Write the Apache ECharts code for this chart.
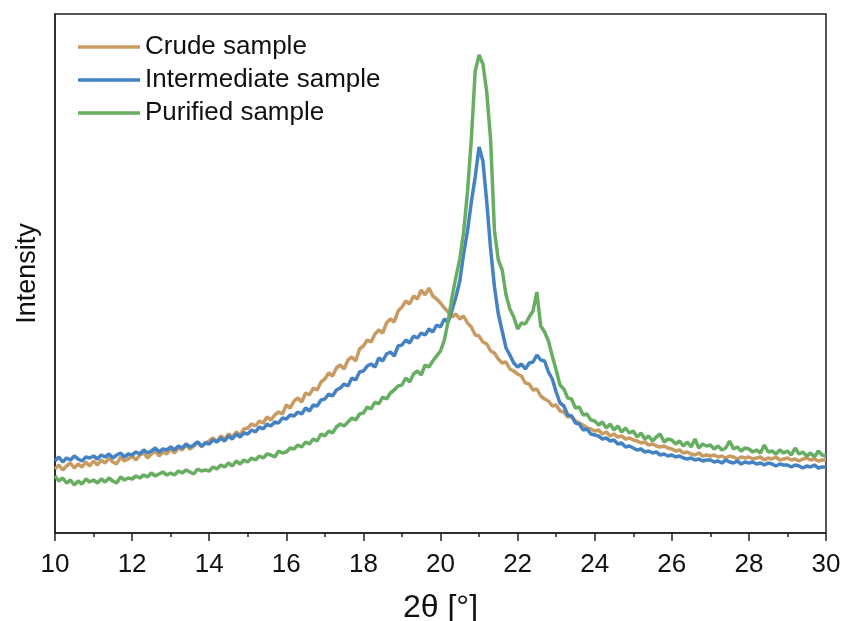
<!DOCTYPE html>
<html>
<head>
<meta charset="utf-8">
<script src="https://cdn.jsdelivr.net/npm/echarts@6/dist/echarts.min.js"></script>
<style>html,body{margin:0;padding:0;background:#fff;}#chart{width:844px;height:621px;}</style>
</head>
<body>
<div id="chart"></div>
<script>
const thetaStart = 10.0;
const thetaStep = 0.1;
const xTicks = [10, 12, 14, 16, 18, 20, 22, 24, 26, 28, 30];
const seriesNames = ['Crude sample', 'Intermediate sample', 'Purified sample'];

const crude = [
  64, 68, 63, 67, 70, 65, 69, 66, 71, 67,
  72, 68, 73, 70, 75, 71, 69, 76, 72, 74,
  77, 73, 78, 80, 75, 79, 82, 77, 81, 79,
  84, 80, 85, 83, 88, 84, 87, 91, 86, 90,
  92, 95, 91, 97, 94, 99, 96, 101, 98, 104,
  105, 109, 107, 112, 110, 116, 113, 118, 121, 119,
  128, 125, 132, 135, 131, 140, 138, 145, 143, 151,
  154, 160, 157, 165, 168, 164, 173, 176, 172, 184,
  187, 193, 191, 199, 203, 200, 210, 214, 211, 222,
  226, 232, 229, 237, 234, 243, 238, 245, 237, 234,
  230, 225, 221, 216, 219, 214, 217, 210, 206, 198,
  197, 191, 189, 182, 180, 174, 170, 171, 164, 162,
  159, 157, 150, 149, 143, 144, 137, 134, 132, 127,
  128, 122, 121, 116, 117, 112, 110, 108, 105, 104,
  102, 103, 99, 101, 97, 99, 96, 97, 94, 95,
  93, 92, 90, 91, 88, 89, 87, 86, 87, 85,
  84, 82, 83, 80, 81, 79, 78, 80, 77, 78,
  77, 78, 76, 77, 75, 77, 76, 74, 76, 75,
  76, 74, 75, 76, 73, 75, 74, 76, 73, 74,
  75, 73, 74, 72, 74, 75, 73, 74, 72, 73,
  73
];

const intermediate = [
  72, 76, 71, 75, 73, 77, 74, 72, 76, 75,
  77, 74, 78, 76, 79, 75, 78, 80, 76, 79,
  78, 81, 79, 83, 80, 82, 85, 81, 84, 83,
  86, 83, 87, 85, 89, 86, 88, 91, 87, 90,
  89, 93, 91, 95, 92, 97, 94, 99, 96, 100,
  99, 103, 101, 106, 104, 109, 107, 111, 110, 115,
  114, 118, 117, 121, 119, 125, 122, 128, 127, 133,
  134, 139, 137, 143, 145, 149, 147, 155, 153, 161,
  162, 167, 169, 166, 175, 172, 179, 181, 177, 187,
  188, 193, 190, 197, 195, 200, 198, 204, 201, 208,
  206, 214, 211, 223, 236, 252, 279, 302, 331, 356,
  386, 372, 331, 284, 246, 219, 202, 185, 178, 170,
  166, 169, 164, 170, 171, 178, 173, 172, 161, 154,
  141, 130, 127, 118, 117, 110, 109, 103, 104, 99,
  98, 97, 94, 95, 92, 93, 89, 90, 86, 87,
  85, 83, 84, 81, 82, 80, 81, 78, 79, 77,
  78, 76, 77, 75, 74, 75, 73, 74, 72, 73,
  73, 71, 72, 70, 73, 71, 70, 72, 69, 71,
  70, 71, 69, 70, 68, 70, 69, 67, 69, 68,
  68, 66, 68, 67, 65, 67, 66, 68, 65, 66,
  66
];

const purified = [
  57, 52, 55, 50, 53, 48, 52, 49, 54, 51,
  53, 50, 54, 51, 55, 52, 50, 56, 53, 55,
  54, 57, 55, 58, 56, 60, 57, 59, 61, 58,
  60, 58, 62, 60, 63, 61, 59, 64, 62, 63,
  62, 66, 64, 68, 66, 70, 67, 72, 69, 73,
  71, 75, 73, 77, 75, 79, 78, 76, 82, 80,
  81, 85, 84, 88, 86, 91, 89, 94, 92, 99,
  97, 102, 100, 106, 109, 107, 111, 115, 113, 119,
  120, 126, 124, 131, 129, 136, 134, 140, 143, 147,
  148, 155, 151, 159, 162, 158, 168, 166, 172, 177,
  182, 193, 212, 236, 256, 274, 301, 341, 394, 462,
  478, 469, 441, 393, 302, 273, 263, 238, 224, 216,
  204, 210, 209, 216, 222, 241, 207, 201, 192, 177,
  163, 148, 144, 135, 134, 125, 126, 118, 119, 113,
  112, 108, 111, 105, 109, 103, 107, 101, 105, 100,
  102, 96, 100, 94, 97, 92, 96, 99, 91, 94,
  93, 89, 92, 87, 91, 86, 94, 85, 89, 87,
  88, 84, 87, 83, 85, 92, 84, 86, 82, 85,
  84, 81, 83, 80, 88, 81, 82, 79, 83, 80,
  82, 78, 85, 79, 81, 77, 80, 76, 82, 78,
  77
];

function pairs(vals) {
  return vals.map((v, i) => [+(thetaStart + i * thetaStep).toFixed(2), v]);
}

const colors = ['#C99A62', '#4482C3', '#68AE62'];
const font = 'Arial, "Liberation Sans", sans-serif';

const chart = echarts.init(document.getElementById('chart'));
chart.setOption({
  animation: false,
  backgroundColor: '#fff',
  color: colors,
  grid: {
    left: 55, right: 18, top: 14, bottom: 88,
    outerBoundsMode: 'none', containLabel: false,
    show: true, borderColor: '#222', borderWidth: 1.5, backgroundColor: 'transparent'
  },
  legend: {
    orient: 'vertical',
    left: 73, top: 29,
    icon: 'rect',
    itemWidth: 62, itemHeight: 3.5, itemGap: 7,
    data: seriesNames,
    textStyle: { fontFamily: font, fontSize: 26, color: '#111', lineHeight: 26 }
  },
  xAxis: {
    type: 'value', min: 10, max: 30, interval: 2,
    name: '2θ [°]', nameLocation: 'middle', nameGap: 59,
    nameTextStyle: { fontFamily: font, fontSize: 32, color: '#111' },
    axisLine: { show: true, lineStyle: { color: '#222', width: 1.5 } },
    axisTick: { show: true, inside: false, length: 8, lineStyle: { color: '#222', width: 1.5 } },
    minorTick: { show: true, splitNumber: 2, length: 4, lineStyle: { color: '#222', width: 1.5 } },
    splitLine: { show: false },
    axisLabel: {
      fontFamily: font, fontSize: 26, color: '#111', margin: 19,
      formatter: v => xTicks.includes(v) ? String(v) : ''
    }
  },
  yAxis: {
    type: 'value', min: 0, max: 519,
    name: 'Intensity', nameLocation: 'middle', nameGap: 14,
    nameTextStyle: { fontFamily: font, fontSize: 27, color: '#111' },
    axisLine: { show: true, lineStyle: { color: '#222', width: 1.5 } },
    axisTick: { show: false },
    axisLabel: { show: false },
    splitLine: { show: false }
  },
  series: [
    { name: seriesNames[0], type: 'line', data: pairs(crude), symbol: 'none', lineStyle: { width: 3.5, color: colors[0] }, itemStyle: { color: colors[0] } },
    { name: seriesNames[1], type: 'line', data: pairs(intermediate), symbol: 'none', lineStyle: { width: 3.5, color: colors[1] }, itemStyle: { color: colors[1] } },
    { name: seriesNames[2], type: 'line', data: pairs(purified), symbol: 'none', lineStyle: { width: 3.5, color: colors[2] }, itemStyle: { color: colors[2] } }
  ]
});
</script>
</body>
</html>
